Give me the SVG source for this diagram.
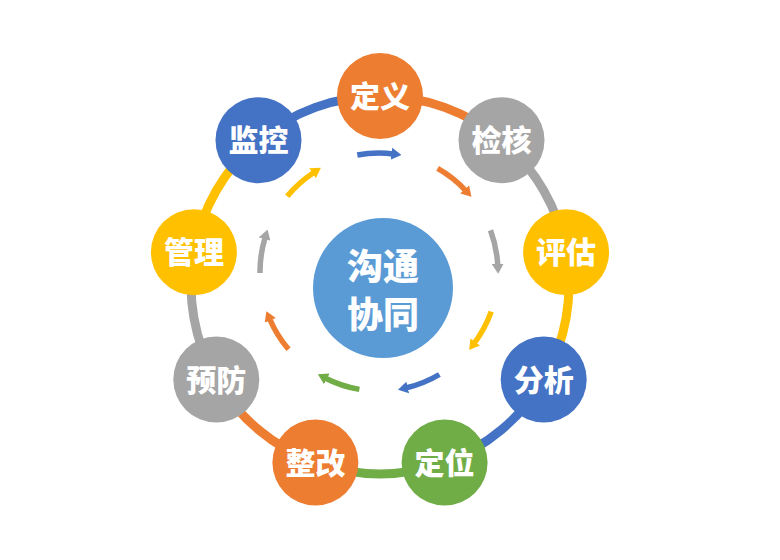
<svg xmlns="http://www.w3.org/2000/svg" width="780" height="560" viewBox="0 0 780 560">
<style>
.ring{fill:none;stroke-width:9}
.flow{fill:none;stroke-width:5.5}
.lbl{font-family:"Noto Sans CJK SC","Noto Sans",sans-serif;font-weight:900;fill:#fff;text-anchor:middle}
.node{font-size:30px}
.hub{font-size:36px}
</style>
<defs>
<marker id="aB" markerUnits="userSpaceOnUse" markerWidth="10" markerHeight="12" viewBox="0 0 10 12" refX="2" refY="6" orient="auto"><path d="M0,0 L10,6 L0,12 z" fill="#4472C4"/></marker>
<marker id="aO" markerUnits="userSpaceOnUse" markerWidth="10" markerHeight="12" viewBox="0 0 10 12" refX="2" refY="6" orient="auto"><path d="M0,0 L10,6 L0,12 z" fill="#ED7D31"/></marker>
<marker id="aG" markerUnits="userSpaceOnUse" markerWidth="10" markerHeight="12" viewBox="0 0 10 12" refX="2" refY="6" orient="auto"><path d="M0,0 L10,6 L0,12 z" fill="#A5A5A5"/></marker>
<marker id="aY" markerUnits="userSpaceOnUse" markerWidth="10" markerHeight="12" viewBox="0 0 10 12" refX="2" refY="6" orient="auto"><path d="M0,0 L10,6 L0,12 z" fill="#FFC000"/></marker>
<marker id="aN" markerUnits="userSpaceOnUse" markerWidth="10" markerHeight="12" viewBox="0 0 10 12" refX="2" refY="6" orient="auto"><path d="M0,0 L10,6 L0,12 z" fill="#70AD47"/></marker>
</defs>
<rect width="780" height="560" fill="#fff"/>
<g id="connectors">
<path class="ring" stroke="#ED7D31" d="M380,96 A189,189 0 0 1 501.5,140.2"/>
<path class="ring" stroke="#A5A5A5" d="M501.5,140.2 A189,189 0 0 1 566.1,252.2"/>
<path class="ring" stroke="#FFC000" d="M566.1,252.2 A189,189 0 0 1 543.7,379.5"/>
<path class="ring" stroke="#4472C4" d="M543.7,379.5 A189,189 0 0 1 444.6,462.6"/>
<path class="ring" stroke="#70AD47" d="M444.6,462.6 A189,189 0 0 1 315.4,462.6"/>
<path class="ring" stroke="#ED7D31" d="M315.4,462.6 A189,189 0 0 1 216.3,379.5"/>
<path class="ring" stroke="#A5A5A5" d="M216.3,379.5 A189,189 0 0 1 193.9,252.2"/>
<path class="ring" stroke="#FFC000" d="M193.9,252.2 A189,189 0 0 1 258.5,140.2"/>
<path class="ring" stroke="#4472C4" d="M258.5,140.2 A189,189 0 0 1 380,96"/>
<path class="flow" stroke="#4472C4" marker-end="url(#aB)" d="M357.3,155 A119,119 0 0 1 393.5,153.9"/>
<path class="flow" stroke="#ED7D31" marker-end="url(#aO)" d="M437.6,168.4 A119,119 0 0 1 466,190.8"/>
<path class="flow" stroke="#A5A5A5" marker-end="url(#aG)" d="M490.5,230.3 A119,119 0 0 1 497.8,265.8"/>
<path class="flow" stroke="#FFC000" marker-end="url(#aY)" d="M491.2,311.7 A119,119 0 0 1 474,343.6"/>
<path class="flow" stroke="#4472C4" marker-end="url(#aB)" d="M439.4,374.5 A119,119 0 0 1 405.8,388"/>
<path class="flow" stroke="#70AD47" marker-end="url(#aN)" d="M359.4,389.4 A119,119 0 0 1 325,378"/>
<path class="flow" stroke="#ED7D31" marker-end="url(#aO)" d="M288.5,349.3 A119,119 0 0 1 269.5,318.5"/>
<path class="flow" stroke="#A5A5A5" marker-end="url(#aG)" d="M260,273 A119,119 0 0 1 265.2,237.2"/>
<path class="flow" stroke="#FFC000" marker-end="url(#aY)" d="M287.2,196.3 A119,119 0 0 1 314.2,172.2"/>
</g>
<g id="hub"><circle cx="383" cy="288" r="70" fill="#5B9BD5"/><text class="lbl hub" x="383" y="280">沟通</text><text class="lbl hub" x="383" y="328">协同</text></g>
<g id="n-dingyi"><circle cx="380" cy="96" r="43" fill="#ED7D31"/><text class="lbl node" x="380" y="107">定义</text></g>
<g id="n-jianhe"><circle cx="501.5" cy="140.2" r="43" fill="#A5A5A5"/><text class="lbl node" x="501.5" y="151">检核</text></g>
<g id="n-pinggu"><circle cx="566.1" cy="252.2" r="43" fill="#FFC000"/><text class="lbl node" x="566.1" y="263">评估</text></g>
<g id="n-fenxi"><circle cx="543.7" cy="379.5" r="43" fill="#4472C4"/><text class="lbl node" x="543.7" y="390.5">分析</text></g>
<g id="n-dingwei"><circle cx="444.6" cy="462.6" r="43" fill="#70AD47"/><text class="lbl node" x="444.6" y="473.5">定位</text></g>
<g id="n-zhenggai"><circle cx="315.4" cy="462.6" r="43" fill="#ED7D31"/><text class="lbl node" x="315.4" y="473.5">整改</text></g>
<g id="n-yufang"><circle cx="216.3" cy="379.5" r="43" fill="#A5A5A5"/><text class="lbl node" x="216.3" y="390.5">预防</text></g>
<g id="n-guanli"><circle cx="193.9" cy="252.2" r="43" fill="#FFC000"/><text class="lbl node" x="193.9" y="263">管理</text></g>
<g id="n-jiankong"><circle cx="258.5" cy="140.2" r="43" fill="#4472C4"/><text class="lbl node" x="258.5" y="151">监控</text></g>
</svg>
